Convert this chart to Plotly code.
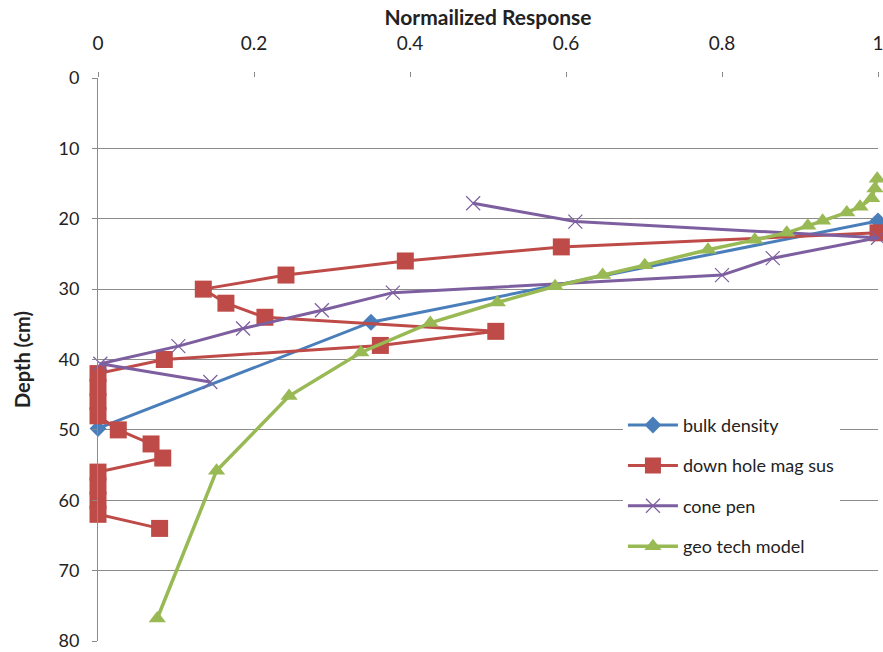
import plotly.graph_objects as go

# Data (x = normalized response, y = depth cm)
bulk_x = [1.0, 0.35, 0.0]
bulk_y = [20.3, 34.7, 49.8]

mag_x = [1.0, 0.594, 0.394, 0.241, 0.135, 0.164, 0.214, 0.51, 0.362, 0.085,
         0.0, 0.0, 0.0, 0.0, 0.026, 0.068, 0.083, 0.0, 0.0, 0.0, 0.0, 0.079]
mag_y = [22, 24, 26, 28, 30, 32, 34, 36, 38, 40,
         42, 44, 46, 48, 50, 52, 54, 56, 58, 60, 62, 64]

cone_x = [0.481, 0.612, 1.0, 0.865, 0.80, 0.378, 0.287, 0.186, 0.103, 0.003, 0.144]
cone_y = [17.8, 20.4, 22.7, 25.6, 28.0, 30.5, 33.0, 35.6, 38.1, 40.6, 43.2]

geo_x = [0.999, 0.996, 0.992, 0.977, 0.96, 0.929, 0.91, 0.883, 0.842, 0.782,
         0.701, 0.647, 0.586, 0.512, 0.426, 0.337, 0.245, 0.152, 0.076]
geo_y = [14.3, 15.7, 17.1, 18.3, 19.1, 20.3, 21.0, 22.0, 23.0, 24.4,
         26.6, 28.0, 29.6, 31.9, 34.8, 39.0, 45.2, 55.8, 76.8]

x_ticks = [0, 0.2, 0.4, 0.6, 0.8, 1.0]
x_tick_labels = ["0", "0.2", "0.4", "0.6", "0.8", "1"]
y_ticks = [0, 10, 20, 30, 40, 50, 60, 70, 80]

FONT = "Lato, 'Open Sans', sans-serif"

fig = go.Figure()
fig.add_trace(go.Scatter(x=bulk_x, y=bulk_y, mode="lines+markers", name="bulk density",
                         legendgroup="a", cliponaxis=False,
                         line=dict(color="#4A7EBB", width=3),
                         marker=dict(symbol="diamond", size=13, color="#4A7EBB")))
fig.add_trace(go.Scatter(x=mag_x, y=mag_y, mode="lines+markers", name="down hole mag sus",
                         legendgroup="b", cliponaxis=False,
                         line=dict(color="#BE4B48", width=3),
                         marker=dict(symbol="square", size=17, color="#BE4B48")))
fig.add_trace(go.Scatter(x=cone_x, y=cone_y, mode="lines+markers", name="cone pen",
                         legendgroup="c", cliponaxis=False,
                         line=dict(color="#7D5FA0", width=3),
                         marker=dict(symbol="x-thin-open", size=14,
                                     line=dict(color="#9A86B8", width=1.2))))
fig.add_trace(go.Scatter(x=geo_x, y=geo_y, mode="lines+markers", name="geo tech model",
                         legendgroup="d", cliponaxis=False,
                         line=dict(color="#98B954", width=3.5),
                         marker=dict(symbol="triangle-up", size=15, color="#98B954")))

fig.update_layout(
    width=883, height=652,
    margin=dict(l=98, r=5, t=78, b=11),
    paper_bgcolor="white", plot_bgcolor="white",
    font=dict(family=FONT, color="#222", size=17),
    showlegend=True,
    legend=dict(x=0.673, y=0.416, xanchor="left", yanchor="top",
                bgcolor="white", font=dict(size=18, family=FONT),
                itemwidth=50,
                tracegroupgap=14, traceorder="grouped"),
    xaxis=dict(
        side="top", range=[0, 1], tickvals=x_ticks, ticktext=x_tick_labels,
        showgrid=False, zeroline=False, automargin=False,
        ticklabeloverflow="allow",
        showline=False, ticks="outside", ticklen=5, tickcolor="#888",
        tickfont=dict(size=19), ticklabelstandoff=14,
        title=dict(text="<b>Normailized Response</b>", font=dict(size=21), standoff=0),
    ),
    yaxis=dict(
        range=[80, 0], tickvals=y_ticks,
        showgrid=True, gridcolor="#8c8c8c", gridwidth=1, zeroline=False,
        showline=True, linecolor="#8c8c8c", linewidth=1, automargin=False,
        ticklabeloverflow="allow",
        ticks="outside", ticklen=5, tickcolor="#888",
        tickfont=dict(size=18), ticklabelstandoff=9,
        title=dict(text="<b>Depth (cm)</b>", font=dict(size=20), standoff=22),
    ),
)

fig.write_html("out.html", config={"displayModeBar": False},
               post_script="document.body.style.margin='0px';")
